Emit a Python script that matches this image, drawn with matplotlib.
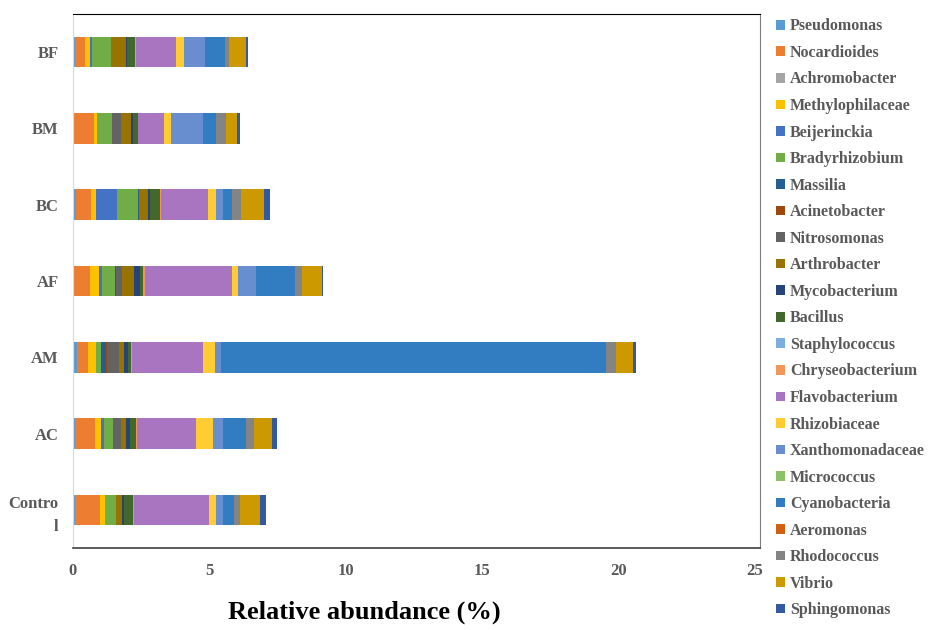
import matplotlib
matplotlib.use("Agg")
from matplotlib import pyplot as plt
import numpy as np

plt.rcParams['font.family'] = ['Liberation Serif', 'DejaVu Serif']
plt.rcParams['font.weight'] = 'bold'

# samples, bottom to top
samples = ["Contro\nl", "AC", "AM", "AF", "BC", "BM", "BF"]

# relative abundance (%) per genus, same order as samples
pseudomonas = [0.10, 0.10, 0.16, 0.04, 0.12, 0.05, 0.10]
nocardioides = [0.90, 0.73, 0.40, 0.60, 0.54, 0.73, 0.35]
achromobacter = [0.0, 0.0, 0.0, 0.0, 0.0, 0.0, 0.0]
methylophilaceae = [0.18, 0.21, 0.29, 0.33, 0.20, 0.13, 0.18]
beijerinckia = [0.02, 0.11, 0.0, 0.11, 0.78, 0.0, 0.07]
bradyrhizobium = [0.38, 0.33, 0.18, 0.48, 0.77, 0.53, 0.70]
massilia = [0.0, 0.02, 0.18, 0.02, 0.02, 0.0, 0.0]
acinetobacter = [0.0, 0.0, 0.04, 0.0, 0.0, 0.0, 0.0]
nitrosomonas = [0.0, 0.26, 0.44, 0.22, 0.0, 0.33, 0.0]
arthrobacter = [0.24, 0.20, 0.18, 0.44, 0.35, 0.37, 0.55]
mycobacterium = [0.06, 0.15, 0.15, 0.22, 0.07, 0.08, 0.06]
bacillus = [0.34, 0.22, 0.11, 0.13, 0.37, 0.17, 0.27]
staphylococcus = [0.0, 0.0, 0.0, 0.0, 0.0, 0.0, 0.0]
chryseobacterium = [0.02, 0.05, 0.05, 0.05, 0.02, 0.02, 0.04]
flavobacterium = [2.76, 2.15, 2.60, 3.19, 1.73, 0.93, 1.47]
rhizobiaceae = [0.26, 0.62, 0.44, 0.23, 0.29, 0.26, 0.31]
xanthomonadaceae = [0.27, 0.38, 0.23, 0.66, 0.26, 1.17, 0.77]
micrococcus = [0.0, 0.0, 0.0, 0.0, 0.0, 0.0, 0.0]
cyanobacteria = [0.39, 0.84, 14.08, 1.44, 0.34, 0.48, 0.70]
aeromonas = [0.0, 0.0, 0.0, 0.0, 0.0, 0.0, 0.0]
rhodococcus = [0.22, 0.28, 0.37, 0.26, 0.32, 0.39, 0.16]
vibrio = [0.71, 0.66, 0.63, 0.70, 0.82, 0.39, 0.63]
sphingomonas = [0.22, 0.18, 0.11, 0.07, 0.22, 0.09, 0.06]

genera = ["Pseudomonas", "Nocardioides", "Achromobacter", "Methylophilaceae",
          "Beijerinckia", "Bradyrhizobium", "Massilia", "Acinetobacter",
          "Nitrosomonas", "Arthrobacter", "Mycobacterium", "Bacillus",
          "Staphylococcus", "Chryseobacterium", "Flavobacterium", "Rhizobiaceae",
          "Xanthomonadaceae", "Micrococcus", "Cyanobacteria", "Aeromonas",
          "Rhodococcus", "Vibrio", "Sphingomonas"]
values = [pseudomonas, nocardioides, achromobacter, methylophilaceae,
          beijerinckia, bradyrhizobium, massilia, acinetobacter,
          nitrosomonas, arthrobacter, mycobacterium, bacillus,
          staphylococcus, chryseobacterium, flavobacterium, rhizobiaceae,
          xanthomonadaceae, micrococcus, cyanobacteria, aeromonas,
          rhodococcus, vibrio, sphingomonas]
colors = ["#5B9BD5", "#ED7D31", "#A5A5A5", "#FFC000", "#4472C4", "#70AD47",
          "#255E91", "#9E480E", "#636363", "#997300", "#264478", "#43682B",
          "#7CAFDD", "#F1975A", "#A974C0", "#FFCD33", "#698ED0", "#8CC168",
          "#327DC2", "#D26012", "#848484", "#CC9A00", "#335AA1"]

fig = plt.figure(figsize=(9.29, 6.3), dpi=100)
ax = fig.add_axes([72.5 / 929, 82 / 630, 687.5 / 929, 534 / 630])

y = np.arange(len(samples))
left = np.zeros(len(samples))
handles = []
for name, vals, c in zip(genera, values, colors):
    b = ax.barh(y, vals, height=0.4, left=left, color=c, label=name)
    handles.append(b)
    left += np.array(vals)

ax.set_xlim(0, 25.18)
ax.set_ylim(-0.5, 6.5)
ax.set_xticks([0, 5, 10, 15, 20, 25])
ax.set_yticks(y)
ax.set_yticklabels(samples, linespacing=1.6)
ax.tick_params(axis='both', length=0, colors="#595959", labelsize=12)
ax.tick_params(axis='x', pad=11)
ax.tick_params(axis='y', pad=10)

ax.spines['left'].set_color("#D9D9D9")
ax.spines['bottom'].set_color("#404040")
ax.spines['bottom'].set_linewidth(1.2)
ax.spines['top'].set_color("black")
ax.spines['right'].set_color("#7F7F7F")

ax.set_xlabel("Relative abundance (%)", fontsize=19, fontweight='bold',
              color="black")
ax.xaxis.set_label_coords(0.425, -0.098)

fig.legend(handles=handles, labels=genera, loc='upper left',
           bbox_to_anchor=(770 / 929, 1 - 12 / 630), frameon=False,
           prop={'size': 11.5, 'weight': 'bold'}, labelcolor="#595959",
           handlelength=0.55, handleheight=0.55, handletextpad=0.3,
           labelspacing=0.66, borderaxespad=0)

fig.savefig("out.png", dpi=100)
